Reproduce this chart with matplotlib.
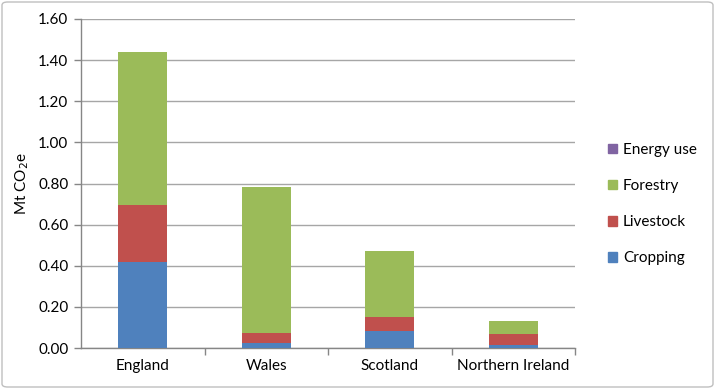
import matplotlib
matplotlib.use("Agg")
import matplotlib.pyplot as plt
import numpy as np
from matplotlib.patches import FancyBboxPatch, Patch

regions = ["England", "Wales", "Scotland", "Northern Ireland"]
cropping = [0.418, 0.023, 0.081, 0.013]
livestock = [0.277, 0.050, 0.071, 0.057]
forestry = [0.745, 0.710, 0.320, 0.063]
energy_use = [0.0, 0.0, 0.0, 0.0]
yticks = [0.0, 0.2, 0.4, 0.6, 0.8, 1.0, 1.2, 1.4, 1.6]

plt.rcParams['font.family'] = ['Lato', 'DejaVu Sans']
FS = 11

fig = plt.figure(figsize=(7.15, 3.89), dpi=100)
ax = fig.add_axes([81/715, 41/389, 494/715, 329/389])

colors = {"Cropping": "#4F81BD", "Livestock": "#C0504D", "Forestry": "#9BBB59", "Energy use": "#8064A2"}
x = np.arange(len(regions))
w = 0.4
bottom = np.zeros(len(regions))
for name, vals in [("Cropping", cropping), ("Livestock", livestock), ("Forestry", forestry), ("Energy use", energy_use)]:
    ax.bar(x, vals, w, bottom=bottom, color=colors[name], label=name, zorder=3)
    bottom += np.array(vals)

ax.set_xlim(-0.5, len(regions) - 0.5)
ax.set_ylim(0, 1.6)
ax.set_yticks(yticks)
ax.set_yticklabels([f"{v:.2f}" for v in yticks], fontsize=FS)
ax.yaxis.grid(True, color="#A6A6A6", linewidth=1, zorder=0)
ax.set_axisbelow(True)

ax.set_xticks(x)
ax.set_xticklabels(regions, fontsize=FS)
ax.tick_params(axis='x', length=0, pad=8)
ax.set_xticks(np.arange(0.5, len(regions), 1), minor=True)
ax.tick_params(axis='x', which='minor', length=5, color="#868686", width=1)
ax.tick_params(axis='y', length=5, color="#868686", width=1, pad=4)

for s in ["top", "right"]:
    ax.spines[s].set_visible(False)
for s in ["left", "bottom"]:
    ax.spines[s].set_color("#868686")
    ax.spines[s].set_linewidth(1)

ax.set_ylabel("Mt CO$_2$e", fontsize=FS, labelpad=5)

handles = [Patch(color=colors[n]) for n in ["Energy use", "Forestry", "Livestock", "Cropping"]]
leg = fig.legend(handles, ["Energy use", "Forestry", "Livestock", "Cropping"],
                 loc="center left", bbox_to_anchor=(594/715, 1 - 204/389), frameon=False,
                 fontsize=FS, handlelength=0.6, handleheight=0.6, handletextpad=0.4,
                 labelspacing=1.45)

border = FancyBboxPatch((2/715, 2/389), 711/715, 385/389, boxstyle="round,pad=0,rounding_size=0.008",
                        transform=fig.transFigure, fill=False, edgecolor="#BFBFBF", linewidth=1)
fig.patches.append(border)

fig.savefig("out.png", dpi=100)
